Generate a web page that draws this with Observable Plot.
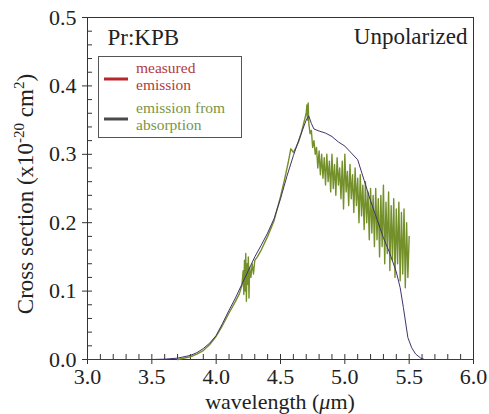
<!DOCTYPE html>
<html><head><meta charset="utf-8">
<script src="https://cdn.jsdelivr.net/npm/d3@7"></script>
<script src="https://cdn.jsdelivr.net/npm/@observablehq/plot@0.6"></script>
<style>body{margin:0;background:#fff}</style>
</head><body><div id="chart"></div>
<script>
const xTicks = [3.0, 3.5, 4.0, 4.5, 5.0, 5.5, 6.0];
const yTicks = [0.0, 0.1, 0.2, 0.3, 0.4, 0.5];
const xMinor = [3.1,3.2,3.3,3.4,3.6,3.7,3.8,3.9,4.1,4.2,4.3,4.4,4.6,4.7,4.8,4.9,5.1,5.2,5.3,5.4,5.6,5.7,5.8,5.9];
const yMinor = [0.02,0.04,0.06,0.08,0.12,0.14,0.16,0.18,0.22,0.24,0.26,0.28,0.32,0.34,0.36,0.38,0.42,0.44,0.46,0.48];

const measuredWl = [3.0,3.5,3.6,3.7,3.8,3.85,3.9,3.95,4.0,4.05,4.1,4.15,4.2,4.25,4.3,4.35,4.4,4.45,4.5,4.55,4.6,4.65,4.7,4.72,4.74,4.76,4.8,4.85,4.9,4.95,5.0,5.05,5.1,5.15,5.2,5.25,5.3,5.35,5.4,5.43,5.455,5.49,5.52,5.55,5.59,5.62,6.0];
const measuredCs = [0,0,0.0005,0.002,0.006,0.010,0.016,0.024,0.035,0.053,0.072,0.090,0.110,0.130,0.150,0.167,0.185,0.206,0.235,0.268,0.298,0.325,0.350,0.356,0.345,0.337,0.334,0.331,0.326,0.318,0.312,0.302,0.292,0.262,0.232,0.205,0.178,0.155,0.128,0.105,0.076,0.032,0.017,0.008,0.002,0,0];

const absWl = [3.7,3.8,3.85,3.9,3.95,4.0,4.05,4.1,4.15,4.18,4.2,4.21,4.215,4.22,4.225,4.23,4.235,4.24,4.245,4.25,4.255,4.26,4.27,4.28,4.29,4.3,4.32,4.35,4.4,4.45,4.5,4.53,4.56,4.58,4.6,4.62,4.64,4.66,4.68,4.7,4.705,4.71,4.715,4.72,4.73,4.74,4.75,4.76,4.77,4.78,
4.79,4.80,4.81,4.82,4.83,4.84,4.85,4.86,4.87,4.88,4.89,4.90,4.91,4.92,4.93,4.94,4.95,4.96,4.97,4.98,4.99,5.00,5.01,5.02,5.03,5.04,5.05,5.06,5.07,5.08,5.09,5.10,5.11,5.12,5.13,5.14,5.15,5.16,5.17,5.18,5.19,5.20,5.21,5.22,5.23,5.24,5.25,5.26,5.27,5.28,5.29,5.30,5.31,5.32,5.33,5.34,5.35,5.36,5.37,5.38,5.39,5.40,5.41,5.42,5.43,5.44,5.45,5.46,5.47,5.48,5.49,5.50];
const absCs = [0,0.004,0.008,0.013,0.022,0.034,0.050,0.068,0.085,0.096,0.108,0.130,0.095,0.145,0.100,0.155,0.085,0.140,0.110,0.150,0.090,0.135,0.120,0.140,0.125,0.145,0.150,0.160,0.180,0.203,0.238,0.262,0.288,0.308,0.303,0.310,0.318,0.330,0.345,0.360,0.372,0.350,0.375,0.345,0.330,0.335,0.310,0.320,0.300,0.310,
0.280,0.305,0.270,0.300,0.265,0.295,0.255,0.300,0.260,0.290,0.245,0.300,0.250,0.285,0.240,0.295,0.255,0.280,0.235,0.290,0.220,0.300,0.245,0.275,0.225,0.285,0.235,0.270,0.215,0.280,0.225,0.265,0.200,0.270,0.210,0.255,0.190,0.260,0.200,0.245,0.175,0.250,0.185,0.240,0.165,0.250,0.175,0.235,0.150,0.240,0.165,0.255,0.140,0.230,0.155,0.245,0.130,0.225,0.145,0.235,0.120,0.220,0.140,0.230,0.115,0.215,0.125,0.220,0.105,0.200,0.120,0.180];

const W = 489, H = 414, mL = 87, mR = 16, mT = 17, mB = 55;
const innerW = W - mL - mR, innerH = H - mT - mB;
const measured = measuredWl.map((x, i) => ({x, y: measuredCs[i]}));
const absorb = absWl.map((x, i) => ({x, y: absCs[i]}));
const ink = "#222";
const serif = "'Liberation Serif', 'Times New Roman', serif";
const fmt = d3.format(".1f");

const chart = Plot.plot({
  width: W, height: H,
  marginLeft: mL, marginRight: mR, marginTop: mT, marginBottom: mB,
  style: {fontFamily: serif, fontSize: "22px", color: ink, background: "#fff"},
  x: {domain: [3, 6]},
  y: {domain: [0, 0.5]},
  marks: [
    Plot.frame({stroke: "#333"}),
    Plot.tickX(xMinor, {x: d => d, insetTop: innerH - 5, stroke: "#333"}),
    Plot.tickY(yMinor, {y: d => d, insetRight: innerW - 5, stroke: "#333"}),
    Plot.tickX(xTicks, {x: d => d, insetTop: innerH - 5, stroke: "#333"}),
    Plot.tickY(yTicks, {y: d => d, insetRight: innerW - 5, stroke: "#333"}),
    Plot.axisX({ticks: xTicks, tickFormat: fmt, tickSize: 5, tickPadding: 4, label: null, stroke: "#333"}),
    Plot.axisY({ticks: yTicks, tickFormat: fmt, tickSize: 5, tickPadding: 6, label: null, stroke: "#333"}),
    Plot.line(absorb, {x: "x", y: "y", stroke: "#73902a", strokeWidth: 1.4}),
    Plot.line(measured, {x: "x", y: "y", stroke: "#43316c", strokeWidth: 1}),
    Plot.text(["Pr:KPB"], {text: d => d, frameAnchor: "top-left", textAnchor: "start", lineAnchor: "bottom", dx: 20, dy: 27, fontSize: 23, fill: ink}),
    Plot.text(["Unpolarized"], {text: d => d, frameAnchor: "top-right", textAnchor: "end", lineAnchor: "bottom", dx: -6, dy: 26, fontSize: 23, fill: ink})
  ]
});

const svg = d3.select(chart).attr("font-family", serif);
// y axis title with superscripts
const yl = svg.append("text")
  .attr("transform", `translate(33,${mT + innerH / 2 + 6}) rotate(-90)`)
  .attr("text-anchor", "middle").attr("font-size", 23).attr("fill", ink);
yl.append("tspan").text("Cross section (x10");
yl.append("tspan").attr("dy", -9).attr("font-size", 15).text("-20");
yl.append("tspan").attr("dy", 9).text(" cm");
yl.append("tspan").attr("dy", -9).attr("font-size", 15).text("2");
yl.append("tspan").attr("dy", 9).text(")");

// x axis title
const xl = svg.append("text")
  .attr("x", mL + innerW / 2).attr("y", 409)
  .attr("text-anchor", "middle").attr("font-size", 22).attr("fill", ink);
xl.append("tspan").text("wavelength (");
xl.append("tspan").attr("font-style", "italic").text("\u03bc");
xl.append("tspan").text("m)");

// legend inside the frame
const lg = svg.append("g").attr("text-anchor", "start");
lg.append("rect").attr("x", 98.5).attr("y", 56.5).attr("width", 143).attr("height", 81)
  .attr("fill", "#fff").attr("stroke", "#555");
lg.append("line").attr("x1", 104).attr("x2", 128).attr("y1", 79).attr("y2", 79)
  .attr("stroke", "#b8252a").attr("stroke-width", 3);
lg.append("line").attr("x1", 104).attr("x2", 128).attr("y1", 119).attr("y2", 119)
  .attr("stroke", "#4a4a4a").attr("stroke-width", 3);
const legendText = [["measured", 73, "#b23a40"], ["emission", 90, "#b23a40"], ["emission from", 113, "#7a9545"], ["absorption", 130, "#7a9545"]];
legendText.forEach(([t, y, c]) => {
  lg.append("text").attr("x", 136).attr("y", y).attr("text-anchor", "start")
    .attr("font-size", 15.5).attr("fill", c).text(t);
});

document.getElementById("chart").appendChild(chart);
</script>
</body></html>
